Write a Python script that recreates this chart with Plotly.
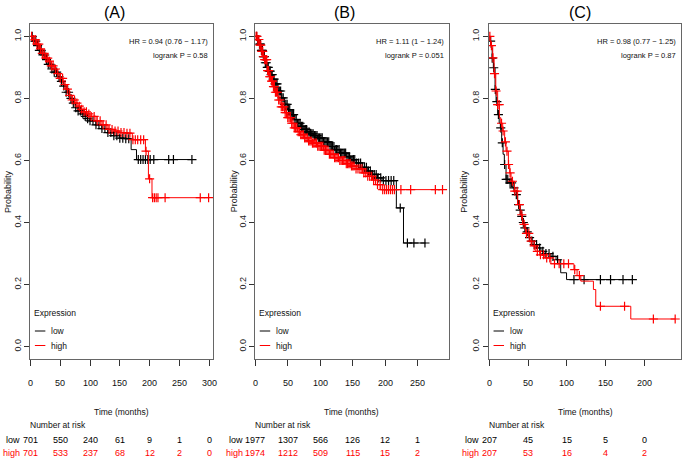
import numpy as np
import plotly.graph_objects as go

W, H = 685, 464

# ---------------- data ----------------
panel_titles = ["(A)", "(B)", "(C)"]
hr_texts = ["HR = 0.94 (0.76 \u2212 1.17)", "HR = 1.11 (1 \u2212 1.24)", "HR = 0.98 (0.77 \u2212 1.25)"]
p_texts = ["logrank P = 0.58", "logrank P = 0.051", "logrank P = 0.87"]

# Panel A
a_low_t = [0, 5, 10, 15, 20, 25, 30, 35, 40, 45, 50, 55, 60, 65, 70, 75, 80, 85, 90, 95, 100,
           110, 120, 130, 140, 150, 160, 169, 178, 271]
a_low_s = [1.0, 0.985, 0.97, 0.955, 0.94, 0.925, 0.91, 0.895, 0.885, 0.87, 0.855, 0.84, 0.82, 0.80,
           0.785, 0.77, 0.76, 0.75, 0.742, 0.735, 0.728, 0.715, 0.703, 0.69, 0.68, 0.672, 0.67,
           0.635, 0.603, 0.603]
a_low_c = [3, 6, 9, 12, 15, 18, 21, 24, 27, 30, 33, 36, 40, 44, 48, 52, 56, 60, 64, 68, 72, 76, 80,
           84, 88, 92, 96, 100, 105, 110, 115, 120, 125, 130, 135, 140, 145, 150, 155, 160, 165,
           181, 185, 189, 193, 197, 201, 207, 232, 240, 271]
a_high_t = [0, 5, 10, 15, 20, 25, 30, 35, 40, 45, 50, 55, 60, 65, 70, 75, 80, 85, 90, 95, 100,
            110, 120, 130, 140, 150, 160, 171, 193, 198, 204, 300]
a_high_s = [1.0, 0.99, 0.975, 0.96, 0.945, 0.93, 0.92, 0.905, 0.895, 0.88, 0.865, 0.845, 0.83, 0.81,
            0.795, 0.785, 0.775, 0.765, 0.757, 0.75, 0.742, 0.728, 0.715, 0.70, 0.695, 0.69, 0.688,
            0.667, 0.63, 0.541, 0.48, 0.48]
a_high_c = [2, 5, 8, 11, 14, 17, 20, 23, 26, 29, 32, 35, 38, 42, 46, 50, 54, 58, 62, 66, 70, 74,
            78, 82, 86, 90, 94, 98, 102, 107, 112, 117, 122, 127, 132, 137, 142, 147, 152, 157,
            162, 167, 172, 176, 180, 185, 190, 194, 200, 205, 208, 211, 214, 226, 285, 299]

# Panel B
b_low_t = [0, 3, 6, 9, 12, 15, 18, 21, 24, 27, 30, 35, 40, 45, 50, 55, 60, 65, 70, 75, 80, 85, 90,
           96, 105, 115, 122, 130, 140, 147, 155, 165, 173, 180, 188, 195, 217, 228, 262]
b_low_s = [1.0, 0.99, 0.975, 0.955, 0.935, 0.915, 0.9, 0.888, 0.877, 0.862, 0.847, 0.824, 0.802,
           0.781, 0.764, 0.748, 0.732, 0.72, 0.71, 0.70, 0.692, 0.686, 0.68, 0.673, 0.66, 0.645,
           0.635, 0.624, 0.612, 0.603, 0.592, 0.578, 0.566, 0.555, 0.544, 0.535, 0.447, 0.334, 0.334]
b_low_c = [2, 3.5, 5, 6.5, 8, 9.5, 11, 12.5, 14, 15.5, 17, 18.5, 20, 21.5, 23, 24.5, 26, 27.5, 29,
           30.5, 32, 33.5, 35, 37, 39, 41, 43, 45, 47, 49, 51, 53, 55, 57, 59, 61, 63, 65, 67, 69,
           71, 73, 75, 77, 79, 81, 83, 85, 87, 89, 91, 93, 95, 97, 99, 101, 103, 105, 107, 109,
           111, 113, 115, 117, 119, 121, 123, 125, 127, 129, 131, 133, 135, 137, 139, 141, 143,
           145, 147, 149, 151, 153, 156, 159, 162, 165, 168, 171, 174, 177, 180, 183, 186, 189,
           193, 197, 201, 205, 209, 213, 223, 234, 244, 261]
b_high_t = [0, 3, 6, 9, 12, 14, 18, 21, 24, 27, 30, 35, 40, 45, 50, 55, 60, 65, 70, 76, 82, 88, 96,
            105, 114, 122, 130, 140, 147, 155, 165, 173, 180, 188, 193, 289]
b_high_s = [1.0, 0.99, 0.972, 0.952, 0.935, 0.925, 0.89, 0.87, 0.856, 0.838, 0.82, 0.795, 0.773,
            0.754, 0.738, 0.72, 0.705, 0.693, 0.683, 0.673, 0.663, 0.656, 0.646, 0.633, 0.62,
            0.609, 0.6, 0.59, 0.582, 0.573, 0.56, 0.549, 0.537, 0.522, 0.506, 0.506]
b_high_c = [1, 2.5, 4, 5.5, 7, 8.5, 10, 11.5, 13, 14.5, 16, 17.5, 19, 20.5, 22, 23.5, 25, 26.5,
            28, 29.5, 31, 32.5, 34, 36, 38, 40, 42, 44, 46, 48, 50, 52, 54, 56, 58, 60, 62, 64,
            66, 68, 70, 72, 74, 76, 78, 80, 82, 84, 86, 88, 90, 92, 94, 96, 98, 100, 102, 104, 106,
            108, 110, 112, 114, 116, 118, 120, 122, 124, 126, 128, 130, 132, 134, 136, 138, 140,
            142, 144, 146, 148, 150, 152, 155, 158, 161, 164, 167, 170, 173, 176, 179, 182, 185,
            188, 192, 196, 199, 202, 205, 208, 211, 214, 224, 239, 277, 288]

# Panel C
c_low_t = [0, 1, 2.6, 4, 5.5, 7.7, 9, 11, 13, 14.5, 16.2, 18, 19.6, 21.8, 26, 30.3, 33, 36.7, 39,
           41, 43, 45.2, 48, 51.6, 55, 58, 62, 66.6, 72, 79.4, 86, 92, 99.5, 184]
c_low_s = [1.0, 0.985, 0.963, 0.93, 0.899, 0.829, 0.79, 0.748, 0.72, 0.705, 0.657, 0.62, 0.587,
           0.539, 0.528, 0.512, 0.49, 0.458, 0.44, 0.42, 0.40, 0.383, 0.37, 0.351, 0.34, 0.329,
           0.318, 0.307, 0.30, 0.291, 0.28, 0.238, 0.216, 0.216]
c_low_c = [2, 4, 6, 8, 10, 12, 15, 17, 20, 22, 24, 27, 29, 32, 35, 38, 40, 42, 44, 46, 49, 52,
           55, 58, 61, 65, 69, 73, 77, 82, 88, 109, 122, 143, 156, 172, 184]
c_high_t = [0, 2, 4.7, 6.5, 8.6, 11, 13.2, 15, 17.5, 20, 21.8, 24.8, 26.5, 28.2, 32.5, 36.7, 40,
            43, 47, 51.6, 55, 60, 65, 70.8, 79.4, 109, 113, 117.8, 134, 137, 182, 239]
c_high_s = [1.0, 0.97, 0.931, 0.88, 0.824, 0.78, 0.738, 0.72, 0.695, 0.66, 0.63, 0.587, 0.56,
            0.533, 0.501, 0.458, 0.425, 0.394, 0.365, 0.34, 0.325, 0.307, 0.296, 0.286, 0.267,
            0.248, 0.229, 0.211, 0.184, 0.13, 0.089, 0.089]
c_high_c = [1, 3, 5, 7, 9, 11, 13, 16, 18, 21, 23, 25, 27, 30, 33, 36, 39, 42, 45, 48, 51, 54,
            58, 62, 66, 70, 74, 78, 84, 90, 96, 102, 110, 116, 143, 174, 211, 239]

# Number at risk
a_risk_times = [0, 50, 100, 150, 200, 250, 300]
a_risk_low = [701, 550, 240, 61, 9, 1, 0]
a_risk_high = [701, 533, 237, 68, 12, 2, 0]
b_risk_times = [0, 50, 100, 150, 200, 250]
b_risk_low = [1977, 1307, 566, 126, 12, 1]
b_risk_high = [1974, 1212, 509, 115, 15, 2]
c_risk_times = [0, 50, 100, 150, 200]
c_risk_low = [207, 45, 15, 5, 0]
c_risk_high = [207, 53, 16, 4, 2]

y_ticks = [0.0, 0.2, 0.4, 0.6, 0.8, 1.0]

# ---------------- styling / layout ----------------
RED = "#FF0000"
BLACK = "#000000"
NARROW = "Liberation Sans Narrow, Arial Narrow, Liberation Sans, Arial, sans-serif"
SANS = "Liberation Sans, Arial, sans-serif"

panels = [
    dict(left=28.5, right=212.0, xmax=307.0, low=(a_low_t, a_low_s, a_low_c),
         high=(a_high_t, a_high_s, a_high_c), risk=(a_risk_times, a_risk_low, a_risk_high),
         xticks=[0, 50, 100, 150, 200, 250, 300], title_x=113, ylab_x=6, lab_shift=-8),
    dict(left=254.0, right=448.0, xmax=297.5, low=(b_low_t, b_low_s, b_low_c),
         high=(b_high_t, b_high_s, b_high_c), risk=(b_risk_times, b_risk_low, b_risk_high),
         xticks=[0, 50, 100, 150, 200, 250], title_x=344, ylab_x=233, lab_shift=-10),
    dict(left=488.5, right=681.0, xmax=246.5, low=(c_low_t, c_low_s, c_low_c),
         high=(c_high_t, c_high_s, c_high_c), risk=(c_risk_times, c_risk_low, c_risk_high),
         xticks=[0, 50, 100, 150, 200], title_x=579.5, ylab_x=463, lab_shift=-8),
]
BOX_TOP, BOX_BOT = 24.0, 359.0


def px(x):
    return x / W


def py(y):
    return 1 - y / H


def step_at(ts, ss, tc):
    idx = np.searchsorted(np.asarray(ts, float), np.asarray(tc, float), side="right") - 1
    return np.asarray(ss, float)[np.clip(idx, 0, len(ss) - 1)]


fig = go.Figure()
annotations = []
shapes = []

for i, p in enumerate(panels):
    n = "" if i == 0 else str(i + 1)
    xa, ya = "x" + n, "y" + n
    for (ts, ss, cs), col in [(p["low"], BLACK), (p["high"], RED)]:
        fig.add_trace(go.Scatter(x=ts, y=ss, mode="lines", line=dict(color=col, width=1, shape="hv"),
                                 xaxis=xa, yaxis=ya, showlegend=False, hoverinfo="skip"))
        fig.add_trace(go.Scatter(x=cs, y=step_at(ts, ss, cs), mode="markers",
                                 marker=dict(symbol="cross-thin", size=6.5, color=col,
                                             line=dict(color=col, width=1.2)),
                                 xaxis=xa, yaxis=ya, showlegend=False, hoverinfo="skip"))
    common_x = dict(domain=[px(p["left"]), px(p["right"])], range=[0, p["xmax"]],
                    tickvals=p["xticks"], ticktext=[" " for _ in p["xticks"]],
                    ticks="outside", ticklen=6, tickcolor="#333", showgrid=False, zeroline=False,
                    showline=True, linecolor="#666", linewidth=1, mirror=True,
                    anchor=ya, fixedrange=True)
    common_y = dict(domain=[py(BOX_BOT), py(BOX_TOP)], range=[-0.04, 1.04], tickvals=y_ticks,
                    tickformat=".1f", tickangle=-90, ticks="outside", ticklen=5, tickcolor="#333",
                    tickfont=dict(family=SANS, size=9, color="#222"), showgrid=False,
                    zeroline=False, showline=True, linecolor="#666", linewidth=1, mirror=True,
                    anchor=xa, fixedrange=True)
    fig.update_layout(**{"xaxis" + n: common_x, "yaxis" + n: common_y})

    for t in p["xticks"]:
        annotations.append(dict(x=t, xref=xa, y=py(382.5), yref="paper", text=str(t),
                                showarrow=False, font=dict(family=NARROW, size=9, color="#111"),
                                xanchor="center", yanchor="middle"))
    annotations.append(dict(x=px(p["title_x"]), y=py(12.7), xref="paper", yref="paper",
                            text=panel_titles[i], showarrow=False,
                            font=dict(family=SANS, size=16, color="#000"),
                            xanchor="center", yanchor="middle"))
    annotations.append(dict(x=px(p["right"] - 3), y=py(41.3), xref="paper", yref="paper",
                            text=hr_texts[i], showarrow=False,
                            font=dict(family=NARROW, size=7.5, color="#111"),
                            xanchor="right", yanchor="middle"))
    annotations.append(dict(x=px(p["right"] - 3), y=py(55.5), xref="paper", yref="paper",
                            text=p_texts[i], showarrow=False,
                            font=dict(family=NARROW, size=7.5, color="#111"),
                            xanchor="right", yanchor="middle"))
    annotations.append(dict(x=px(p["ylab_x"]), y=py(191), xref="paper", yref="paper",
                            text="Probability", textangle=-90, showarrow=False,
                            font=dict(family=SANS, size=9, color="#111"),
                            xanchor="center", yanchor="middle"))
    annotations.append(dict(x=px((p["left"] + p["right"]) / 2), y=py(412), xref="paper",
                            yref="paper", text="Time (months)", showarrow=False,
                            font=dict(family=NARROW, size=8.5, color="#111"),
                            xanchor="center", yanchor="middle"))
    L = p["left"]
    annotations.append(dict(x=px(L + 2), y=py(313), xref="paper", yref="paper", text="Expression",
                            showarrow=False, font=dict(family=NARROW, size=8.5, color="#111"),
                            xanchor="left", yanchor="middle"))
    for yy, col, name in [(331, BLACK, "low"), (345.5, RED, "high")]:
        shapes.append(dict(type="line", xref="paper", yref="paper", x0=px(L + 4.5), x1=px(L + 15),
                           y0=py(yy), y1=py(yy), line=dict(color=col, width=1)))
        annotations.append(dict(x=px(L + 19), y=py(yy), xref="paper", yref="paper", text=name,
                                showarrow=False, font=dict(family=NARROW, size=8.5, color="#111"),
                                xanchor="left", yanchor="middle"))
    rt, rl, rh = p["risk"]
    annotations.append(dict(x=0, xref=xa, y=py(425), yref="paper", text="Number at risk",
                            showarrow=False, font=dict(family=NARROW, size=8.5, color="#111"),
                            xanchor="left", yanchor="middle", xshift=-2))
    for vals, col, yy, name in [(rl, BLACK, 439.5, "low"), (rh, RED, 453, "high")]:
        annotations.append(dict(x=0, xref=xa, y=py(yy), yref="paper", text=name,
                                showarrow=False, font=dict(family=NARROW, size=9, color=col),
                                xanchor="right", yanchor="middle", xshift=p["lab_shift"]))
        for t, v in zip(rt, vals):
            annotations.append(dict(x=t, xref=xa, y=py(yy), yref="paper", text=str(v),
                                    showarrow=False, font=dict(family=NARROW, size=9, color=col),
                                    xanchor="center", yanchor="middle"))

fig.update_layout(width=W, height=H, margin=dict(l=0, r=0, t=0, b=0),
                  paper_bgcolor="white", plot_bgcolor="white",
                  annotations=annotations, shapes=shapes, showlegend=False)

fig.write_html("out.html", config={"displayModeBar": False, "staticPlot": True},
               post_script="document.body.style.margin='0';document.body.style.padding='0';"
                           "document.documentElement.style.overflow='hidden';")
